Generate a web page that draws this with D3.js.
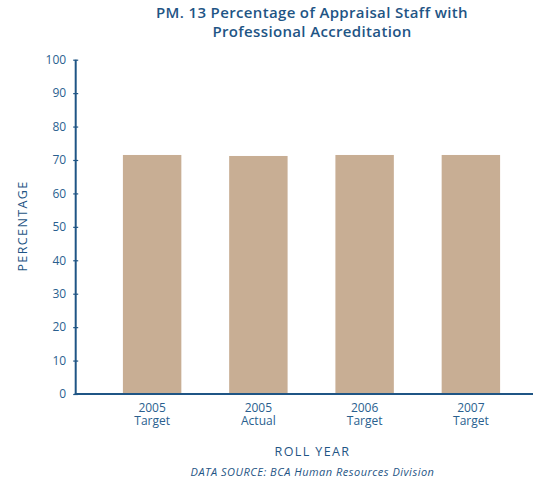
<!DOCTYPE html>
<html>
<head>
<meta charset="utf-8">
<script src="https://cdn.jsdelivr.net/npm/d3@7"></script>
<style>
  body { margin: 0; background: #fff; }
  svg text { font-family: "Open Sans", "Lato", sans-serif; }
</style>
</head>
<body>
<svg id="chart" width="533" height="480"></svg>
<script>
// Roll years (two-line labels) and the share of appraisal staff accredited
const categoryYears = ["2005", "2005", "2006", "2007"];
const categoryKinds = ["Target", "Actual", "Target", "Target"];
const percentValues = [71.5, 71.2, 71.5, 71.5];
const yTicks = [0, 10, 20, 30, 40, 50, 60, 70, 80, 90, 100];

const ink = "#1f5585";
const labelInk = "#2a5f8f";
const barFill = "#c8ae94";

const svg = d3.select("#chart");
const keys = d3.range(categoryYears.length);

const x = d3.scaleBand().domain(keys).range([99, 524]).paddingInner(0.45).paddingOuter(0.225);
const y = d3.scaleLinear().domain([0, 100]).range([394, 59.7]);
const axisX = 75.7;

// Bars
svg.append("g").selectAll("rect").data(keys).join("rect")
  .attr("x", i => x(i))
  .attr("y", i => y(percentValues[i]))
  .attr("width", x.bandwidth())
  .attr("height", i => y(0) - y(percentValues[i]))
  .attr("fill", barFill);

// Y axis with ticks crossing the line
const yAxis = svg.append("g").attr("transform", `translate(${axisX},0)`)
  .call(d3.axisLeft(y).tickValues(yTicks).tickSize(2.5).tickPadding(7));
yAxis.select(".domain").remove();
yAxis.append("line").attr("x1", 0).attr("x2", 0).attr("y1", y(100)).attr("y2", y(0))
  .attr("stroke", ink).attr("stroke-width", 2);
yAxis.selectAll(".tick line").attr("x1", -2.5).attr("x2", 2.5).attr("stroke", ink).attr("stroke-width", 1.2);
yAxis.selectAll(".tick text").attr("fill", labelInk).attr("font-size", 12);

// X axis baseline
svg.append("line").attr("x1", axisX - 1).attr("x2", 533).attr("y1", y(0)).attr("y2", y(0))
  .attr("stroke", ink).attr("stroke-width", 2);

// Category labels, two lines each
const xl = svg.append("g").selectAll("text").data(keys).join("text")
  .attr("text-anchor", "middle")
  .attr("fill", labelInk)
  .attr("font-size", 12);
xl.append("tspan").attr("x", i => x(i) + x.bandwidth() / 2).attr("y", 411.5).text(i => categoryYears[i]);
xl.append("tspan").attr("x", i => x(i) + x.bandwidth() / 2).attr("y", 424.5).text(i => categoryKinds[i]);

// Title
const title = svg.append("text").attr("text-anchor", "middle").attr("fill", ink)
  .attr("font-size", 15).attr("font-weight", 600).attr("letter-spacing", 0.35);
title.append("tspan").attr("x", 312).attr("y", 17.5).text("PM. 13 Percentage of Appraisal Staff with");
title.append("tspan").attr("x", 312).attr("y", 37).text("Professional Accreditation");

// Axis titles
svg.append("text").attr("transform", "translate(27,226) rotate(-90)")
  .attr("text-anchor", "middle").attr("fill", ink).attr("font-size", 12.5)
  .attr("letter-spacing", 1.4).text("PERCENTAGE");
svg.append("text").attr("x", 312.5).attr("y", 456).attr("text-anchor", "middle")
  .attr("fill", ink).attr("font-size", 12.5).attr("letter-spacing", 1.4).text("ROLL YEAR");

// Source note
svg.append("text").attr("x", 312.5).attr("y", 475.5).attr("text-anchor", "middle")
  .attr("fill", ink).attr("font-size", 11).attr("font-style", "italic")
  .attr("letter-spacing", 0.5)
  .text("DATA SOURCE: BCA Human Resources Division");
</script>
</body>
</html>
